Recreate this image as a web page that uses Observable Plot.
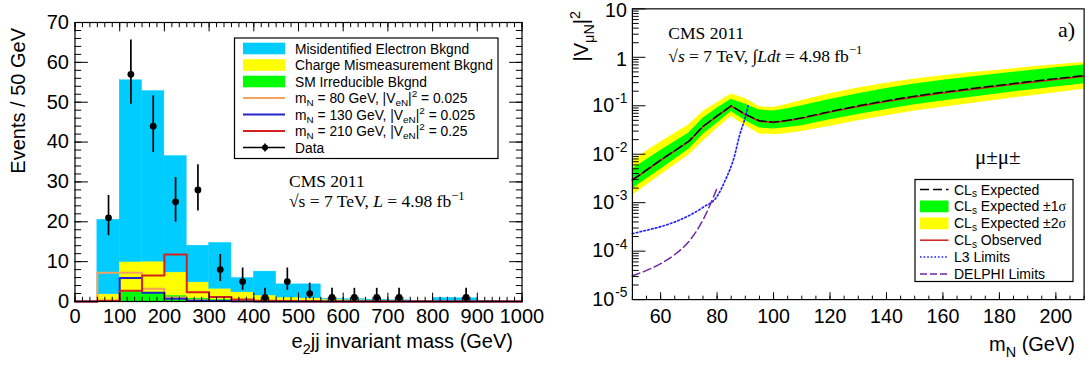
<!DOCTYPE html>
<html>
<head>
<meta charset="utf-8">
<script src="https://cdn.jsdelivr.net/npm/d3@7"></script>
<script src="https://cdn.jsdelivr.net/npm/@observablehq/plot@0.6"></script>
<style>
html, body { margin:0; padding:0; background:#fff; overflow:hidden; }
#wrap { position:relative; width:1091px; height:365px; overflow:hidden; background:#fff; }
#L, #R, #O { position:absolute; top:0; }
#L { left:0; } #R { left:540px; } #O { left:0; pointer-events:none; }
text { white-space: pre; }
</style>
</head>
<body>
<div id="wrap"><div id="L"></div><div id="R"></div><svg id="O" width="1091" height="365"></svg></div>
<script>
const SANS = "'Liberation Sans', Arial, Helvetica, sans-serif";
const SERIF = "'Liberation Serif', 'Times New Roman', Times, serif";

// ---------------- Left panel: e2jj invariant mass ----------------
const binLow = [0,50,100,150,200,250,300,350,400,450,500,550,600,650,700,750,800,850,900,950];
const misIdentified = [0,18.7,45.6,42.8,29.2,9.2,11.5,3.6,6.0,3.3,3.5,0.1,0.2,0.1,0.1,0.05,0.8,0.7,0.05,0];
const chargeMis     = [0,1.7,7.4,7.7,5.8,4.0,2.7,2.0,1.3,0.85,0.7,0.4,0.35,0.25,0.2,0.15,0.1,0.1,0.05,0];
const smIrreducible = [0,0.1,2.5,2.3,1.5,0.8,0.5,0.3,0.2,0.15,0.1,0.1,0.05,0.05,0,0,0,0,0,0];
const sigM80  = [0,7.2,7.2,3.2,1.0,0.3,0.15,0.05,0,0,0,0,0,0,0,0,0,0,0,0];
const sigM130 = [0,0.1,5.9,2.2,0.7,0.2,0.1,0.05,0,0,0,0,0,0,0,0,0,0,0,0];
const sigM210 = [0,0.2,2.7,6.5,11.8,2.3,1.1,0.5,0.2,0.1,0.05,0,0,0,0,0,0,0,0,0];
const dataMass    = [75,125,175,225,275,325,375,425,475,525,575,625,675,725,875];
const dataEvents  = [21,57,44,25,28,8,5,1,5,2,1,1,1,1,1];
const dataErrLow  = [16.5,49.5,37.4,19.9,22.7,5.0,2.8,0.2,2.8,0.7,0.2,0.2,0.2,0.2,0.2];
const dataErrHigh = [26.6,65.6,51.6,31.1,34.3,11.8,8.4,3.3,8.4,4.6,3.3,3.3,3.3,3.3,3.3];
const bkgNames  = ["SM Irreducible Bkgnd","Charge Mismeasurement Bkgnd","Misidentified Electron Bkgnd"];
const bkgColors = ["#00ff00","#ffff00","#00ccff"];

// ---------------- Right panel: |V_muN|^2 limits ----------------
const massPoints  = [50,60,70,75,80,85,90,95,100,105,110,120,130,140,150,160,170,180,190,200,210];
const expected    = [0.00295,0.00759,0.0186,0.0376,0.0617,0.100,0.0668,0.0490,0.0460,0.0501,0.0562,0.0759,0.100,0.127,0.158,0.191,0.226,0.266,0.313,0.363,0.422];
const observed    = [0.0029,0.0075,0.0183,0.037,0.061,0.098,0.066,0.048,0.045,0.049,0.055,0.074,0.097,0.123,0.152,0.184,0.217,0.255,0.300,0.348,0.405];
const green1Low   = [0.00194,0.00490,0.0126,0.0254,0.0437,0.0759,0.0490,0.0347,0.0333,0.0355,0.0389,0.0513,0.0661,0.0841,0.105,0.126,0.150,0.178,0.209,0.245,0.285];
const green1High  = [0.00493,0.0120,0.0275,0.0555,0.0891,0.137,0.107,0.0818,0.0782,0.0871,0.100,0.135,0.178,0.226,0.282,0.335,0.394,0.457,0.531,0.610,0.697];
const yellow2Low  = [0.00141,0.00372,0.00966,0.0186,0.0339,0.0603,0.0394,0.0263,0.0253,0.0269,0.0295,0.0380,0.0490,0.0624,0.0776,0.0933,0.111,0.133,0.158,0.186,0.219];
const yellow2High = [0.00752,0.0178,0.0407,0.0759,0.115,0.174,0.141,0.0955,0.0918,0.107,0.129,0.178,0.234,0.292,0.355,0.417,0.484,0.543,0.624,0.700,0.785];
const l3Mass  = [50,55,60,65,70,75,80,83,86,88,90,91];
const l3Limit = [2.3e-4,2.7e-4,3.2e-4,4.0e-4,5.4e-4,8.0e-4,1.35e-3,3.0e-3,8.5e-3,0.025,0.058,0.10];
const delphiMass  = [50,55,60,65,70,75,80];
const delphiLimit = [3.1e-5,4.0e-5,5.5e-5,8.5e-5,1.58e-4,4.4e-4,2.0e-3];
const decadeVals = [1e-5,1e-4,1e-3,1e-2,1e-1,1,10];
const decadeBase = ["10","10","10","10","10","1","10"];
const decadeExp  = ["-5","-4","-3","-2","-1","",""];

// ---------------- build tables ----------------
const stackRows = [];
binLow.forEach((lo, i) => {
  stackRows.push({x1: lo, x2: lo + 50, y: smIrreducible[i], k: bkgNames[0]});
  stackRows.push({x1: lo, x2: lo + 50, y: chargeMis[i], k: bkgNames[1]});
  stackRows.push({x1: lo, x2: lo + 50, y: misIdentified[i], k: bkgNames[2]});
});
function stepRows(vals) {
  const r = binLow.map((lo, i) => ({x: lo, y: vals[i]}));
  r.push({x: 1000, y: vals[vals.length - 1]});
  return r;
}
const dataRows = dataMass.map((m, i) => ({m, n: dataEvents[i], lo: dataErrLow[i], hi: dataErrHigh[i]}));
const blank = () => "";
const plain = d => String(d);

const left = Plot.plot({
  width: 550, height: 365,
  marginLeft: 74.5, marginRight: 28.5, marginTop: 22, marginBottom: 64,
  x: {domain: [0, 1000]}, y: {domain: [0, 70]},
  color: {domain: bkgNames, range: bkgColors},
  style: {fontFamily: SANS, color: "#000", background: "transparent", overflow: "visible"},
  marks: [
    Plot.rectY(stackRows, {x1: "x1", x2: "x2", y: "y", fill: "k", stroke: "k", strokeWidth: 0.4}),
    Plot.line(stepRows(sigM80), {x: "x", y: "y", curve: "step-after", stroke: "#f5a25d", strokeWidth: 2}),
    Plot.line(stepRows(sigM130), {x: "x", y: "y", curve: "step-after", stroke: "#2424c8", strokeWidth: 2}),
    Plot.line(stepRows(sigM210), {x: "x", y: "y", curve: "step-after", stroke: "#d42222", strokeWidth: 2}),
    Plot.ruleX(dataRows, {x: "m", y1: "lo", y2: "hi", stroke: "#000", strokeWidth: 1.7}),
    Plot.dot(dataRows, {x: "m", y: "n", r: 3.4, fill: "#000", stroke: "none"}),
    Plot.frame({stroke: "#000", strokeWidth: 1.2}),
    Plot.axisX(d3.range(0, 1001, 100), {anchor: "bottom", tickSize: -8.4, tickFormat: blank, label: null}),
    Plot.axisX(d3.range(0, 61).map(i => i * 100 / 6), {anchor: "bottom", tickSize: -4.2, tickFormat: blank, label: null}),
    Plot.axisX(d3.range(0, 1001, 100), {anchor: "top", tickSize: -8.4, tickFormat: blank, label: null}),
    Plot.axisX(d3.range(0, 61).map(i => i * 100 / 6), {anchor: "top", tickSize: -4.2, tickFormat: blank, label: null}),
    Plot.axisY(d3.range(0, 71, 10), {anchor: "left", tickSize: -13.4, tickFormat: blank, label: null}),
    Plot.axisY(d3.range(0, 71, 2), {anchor: "left", tickSize: -6.7, tickFormat: blank, label: null}),
    Plot.axisY(d3.range(0, 71, 10), {anchor: "right", tickSize: -13.4, tickFormat: blank, label: null}),
    Plot.axisY(d3.range(0, 71, 2), {anchor: "right", tickSize: -6.7, tickFormat: blank, label: null}),
    Plot.axisX(d3.range(0, 1001, 100), {anchor: "bottom", tickSize: 0, tickPadding: 7, fontSize: 20, tickFormat: plain, label: null}),
    Plot.axisY(d3.range(0, 71, 10), {anchor: "left", tickSize: 0, tickPadding: 6, fontSize: 20, tickFormat: plain, label: null})
  ]
});
document.getElementById("L").appendChild(left);

const bandRows = massPoints.map((m, i) => ({m, e: expected[i], o: observed[i], g1: green1Low[i], g2: green1High[i], y1: yellow2Low[i], y2: yellow2High[i]}));
const l3Rows = l3Mass.map((m, i) => ({m, v: l3Limit[i]}));
const delphiRows = delphiMass.map((m, i) => ({m, v: delphiLimit[i]}));
const decRows = decadeVals.map((v, i) => ({v, base: decadeBase[i], exp: decadeExp[i]}));
const minorLog = [];
decadeVals.slice(0, -1).forEach(d => { for (let k = 2; k <= 9; k++) minorLog.push(k * d); });

const right = Plot.plot({
  width: 560, height: 365,
  marginLeft: 93.4, marginRight: 7.5, marginTop: 8.5, marginBottom: 61,
  x: {domain: [50, 210]}, y: {type: "log", domain: [1e-5, 10]},
  style: {fontFamily: SANS, color: "#000", background: "transparent", overflow: "visible"},
  marks: [
    Plot.areaY(bandRows, {x: "m", y1: "y1", y2: "y2", fill: "#ffff00"}),
    Plot.areaY(bandRows, {x: "m", y1: "g1", y2: "g2", fill: "#00ff00"}),
    Plot.line(bandRows, {x: "m", y: "o", stroke: "#d41c1c", strokeWidth: 1.5}),
    Plot.line(bandRows, {x: "m", y: "e", stroke: "#000", strokeWidth: 1.5, strokeDasharray: "9,4"}),
    Plot.line(l3Rows, {x: "m", y: "v", stroke: "#1f1fff", strokeWidth: 1.7, strokeDasharray: "1.6,2.4", curve: "monotone-x"}),
    Plot.line(delphiRows, {x: "m", y: "v", stroke: "#7025a6", strokeWidth: 1.5, strokeDasharray: "8,4", curve: "monotone-x"}),
    Plot.frame({stroke: "#000", strokeWidth: 1.2}),
    Plot.axisY(decadeVals, {anchor: "left", tickSize: -13.8, tickFormat: blank, label: null}),
    Plot.axisY(minorLog, {anchor: "left", tickSize: -6.9, tickFormat: blank, label: null}),
    Plot.axisX(d3.range(60, 201, 20), {anchor: "bottom", tickSize: -7, tickFormat: blank, label: null}),
    Plot.axisX(d3.range(50, 211, 5), {anchor: "bottom", tickSize: -3.5, tickFormat: blank, label: null}),
    Plot.axisX(d3.range(60, 201, 20), {anchor: "bottom", tickSize: 0, tickPadding: 9.3, fontSize: 20, tickFormat: plain, label: null}),
    Plot.text(decRows.filter(r => r.exp), {y: "v", text: "base", frameAnchor: "left", textAnchor: "end", dx: -18.5, fontSize: 20}),
    Plot.text(decRows.filter(r => r.exp), {y: "v", text: "exp", frameAnchor: "left", textAnchor: "end", dx: -5, dy: -7, fontSize: 14}),
    Plot.text(decRows.filter(r => !r.exp), {y: "v", text: "base", frameAnchor: "left", textAnchor: "end", dx: -5.5, dy: 2, fontSize: 20})
  ]
});
document.getElementById("R").appendChild(right);

// ---------------- annotations & legends ----------------
const O = d3.select("#O");
function rich(x, y, parts, {size = 14, family = SANS, anchor = "start", rotate = false, subOff = 0.3} = {}) {
  const t = O.append("text").attr("x", x).attr("y", y).attr("font-size", size)
    .attr("font-family", family).attr("text-anchor", anchor).attr("fill", "#000");
  if (rotate) t.attr("transform", `rotate(-90 ${x} ${y})`);
  let cur = 0;
  for (const [s, kind, fam] of parts) {
    const off = kind === "sub" ? subOff * size : kind === "sup" ? -0.42 * size : 0;
    const ts = t.append("tspan").attr("dy", off - cur).text(s);
    cur = off;
    if (kind === "sub" || kind === "sup") ts.attr("font-size", 0.72 * size);
    if (kind === "it") ts.attr("font-style", "italic");
    if (fam) ts.attr("font-family", fam);
  }
  return t;
}

// axis titles
rich(25, 28, [["Events / 50 GeV"]], {size: 20, anchor: "end", rotate: true});
rich(513, 347.5, [["e"], ["2", "sub"], ["jj invariant mass (GeV)"]], {size: 20, anchor: "end"});
rich(588, 11, [["|V"], ["μN", "sub"], ["|"], ["2", "sup"]], {size: 20, anchor: "end", rotate: true});
rich(1075, 350.5, [["m"], ["N", "sub"], [" (GeV)"]], {size: 20, anchor: "end"});

// CMS labels
rich(289, 187.3, [["CMS 2011"]], {size: 17.5, family: SERIF});
rich(289, 207.3, [["√s = 7 TeV, "], ["L", "it"], [" = 4.98 fb"], ["−1", "sup"]], {size: 17.5, family: SERIF});
rich(668.3, 39.3, [["CMS 2011"]], {size: 17.5, family: SERIF});
rich(668.3, 61.7, [["√"], ["s", "it"], [" = 7 TeV, ∫"], ["Ldt", "it"], [" = 4.98 fb"], ["−1", "sup"]], {size: 17.5, family: SERIF});
rich(1058, 36.7, [["a)"]], {size: 22, family: SERIF});
rich(975, 164, [["μ±μ±"]], {size: 21, family: SERIF});

// left legend
O.append("rect").attr("x", 234.5).attr("y", 38).attr("width", 263.5).attr("height", 120.5)
  .attr("fill", "#fff").attr("stroke", "#000").attr("stroke-width", 1.2);
const leftLegend = [
  {kind: "rect", color: "#00ccff", parts: [["Misidentified Electron Bkgnd"]]},
  {kind: "rect", color: "#ffff00", parts: [["Charge Mismeasurement Bkgnd"]]},
  {kind: "rect", color: "#00ff00", parts: [["SM Irreducible Bkgnd"]]},
  {kind: "line", color: "#f5a25d", parts: [["m"], ["N", "sub"], [" = 80 GeV, |V"], ["eN", "sub"], ["|"], ["2", "sup"], [" = 0.025"]]},
  {kind: "line", color: "#2424c8", parts: [["m"], ["N", "sub"], [" = 130 GeV, |V"], ["eN", "sub"], ["|"], ["2", "sup"], [" = 0.025"]]},
  {kind: "line", color: "#d42222", parts: [["m"], ["N", "sub"], [" = 210 GeV, |V"], ["eN", "sub"], ["|"], ["2", "sup"], [" = 0.25"]]},
  {kind: "data", color: "#000", parts: [["Data"]]}
];
leftLegend.forEach((e, i) => {
  const cy = 48.5 + i * 16.5;
  if (e.kind === "rect") {
    O.append("rect").attr("x", 243).attr("y", cy - 5.8).attr("width", 42).attr("height", 11.6).attr("fill", e.color);
  } else {
    O.append("line").attr("x1", 243).attr("x2", 285).attr("y1", cy).attr("y2", cy)
      .attr("stroke", e.color).attr("stroke-width", e.kind === "data" ? 1.6 : 2);
    if (e.kind === "data") {
      O.append("line").attr("x1", 265).attr("x2", 265).attr("y1", cy - 4).attr("y2", cy + 4).attr("stroke", "#000").attr("stroke-width", 1.6);
      O.append("circle").attr("cx", 265).attr("cy", cy).attr("r", 3).attr("fill", "#000");
    }
  }
  rich(295, cy + 5, e.parts, {size: 13.8, subOff: 0.25});
});

// right legend
O.append("rect").attr("x", 915).attr("y", 179.5).attr("width", 158).attr("height", 102)
  .attr("fill", "#fff").attr("stroke", "#000").attr("stroke-width", 1.2);
const rightLegend = [
  {kind: "line", color: "#000", dash: "9,4", width: 1.6, parts: [["CL"], ["s", "sub"], [" Expected"]]},
  {kind: "rect", color: "#00ff00", parts: [["CL"], ["s", "sub"], [" Expected ±1"], ["σ", "n", SERIF]]},
  {kind: "rect", color: "#ffff00", parts: [["CL"], ["s", "sub"], [" Expected ±2"], ["σ", "n", SERIF]]},
  {kind: "line", color: "#d41c1c", dash: null, width: 1.5, parts: [["CL"], ["s", "sub"], [" Observed"]]},
  {kind: "line", color: "#1f1fff", dash: "1.6,2", width: 1.5, parts: [["L3 Limits"]]},
  {kind: "line", color: "#7025a6", dash: "7,3", width: 1.6, parts: [["DELPHI Limits"]]}
];
rightLegend.forEach((e, i) => {
  const cy = 189.5 + i * 16.9;
  if (e.kind === "rect") {
    O.append("rect").attr("x", 920).attr("y", cy - 5.9).attr("width", 28.5).attr("height", 11.8).attr("fill", e.color);
  } else {
    const l = O.append("line").attr("x1", 920).attr("x2", 948.5).attr("y1", cy).attr("y2", cy)
      .attr("stroke", e.color).attr("stroke-width", e.width);
    if (e.dash) l.attr("stroke-dasharray", e.dash);
  }
  rich(954, cy + 5, e.parts, {size: 14, subOff: 0.2});
});
</script>
</body>
</html>
